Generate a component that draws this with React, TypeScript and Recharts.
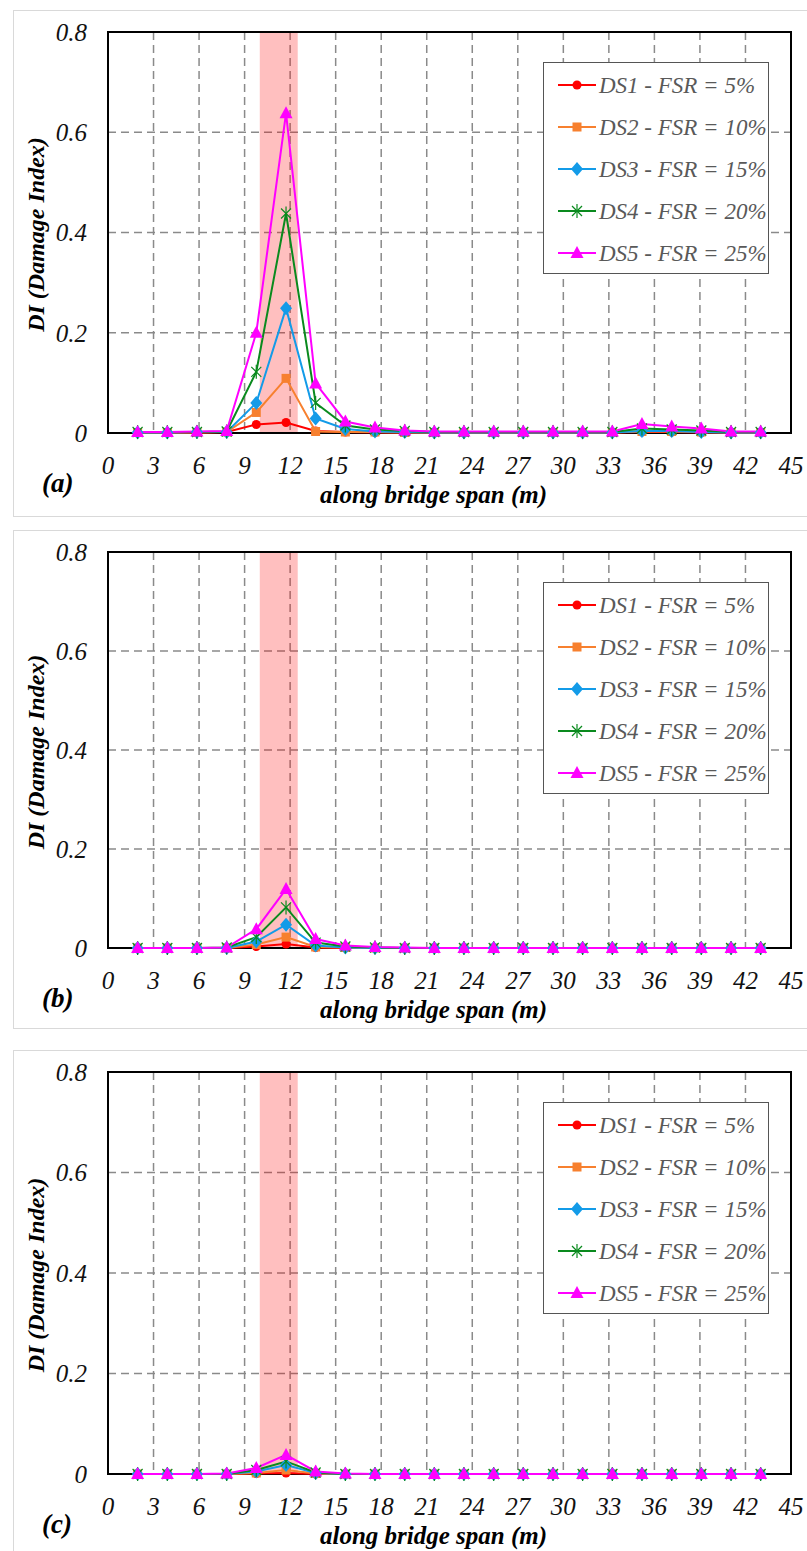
import { CartesianGrid, Label, Legend, Line, LineChart, ReferenceArea, XAxis, YAxis } from 'recharts';

// node positions along the span (m)
const spanX = [1.95, 3.91, 5.86, 7.82, 9.77, 11.73, 13.68, 15.64, 17.59, 19.55, 21.5, 23.45, 25.41, 27.36, 29.32, 31.27, 33.23, 35.18, 37.14, 39.09, 41.05, 43];
const xTicks = [0, 3, 6, 9, 12, 15, 18, 21, 24, 27, 30, 33, 36, 39, 42, 45];
const yTicks = [0, 0.2, 0.4, 0.6, 0.8];

const seriesNames = ['DS1 - FSR = 5%', 'DS2 - FSR = 10%', 'DS3 - FSR = 15%', 'DS4 - FSR = 20%', 'DS5 - FSR = 25%'];
const seriesColors = ['#ff0000', '#f7802f', '#139be8', '#0a8a1e', '#ff00ff'];
const seriesShapes = ['circle', 'square', 'diamond', 'star', 'triangle'];
const damagedZone = [10, 12.5];

// panel (a)
const aDs1 = [0.001, 0.001, 0.001, 0.002, 0.017, 0.021, 0.004, 0.002, 0.001, 0.001, 0.001, 0.001, 0.001, 0.001, 0.001, 0.001, 0.001, 0.002, 0.002, 0.001, 0.001, 0.001];
const aDs2 = [0.001, 0.001, 0.001, 0.002, 0.041, 0.109, 0.003, 0.002, 0.002, 0.001, 0.001, 0.001, 0.001, 0.001, 0.001, 0.001, 0.001, 0.003, 0.003, 0.002, 0.001, 0.001];
const aDs3 = [0.001, 0.001, 0.002, 0.002, 0.06, 0.249, 0.029, 0.008, 0.003, 0.002, 0.001, 0.001, 0.001, 0.001, 0.001, 0.001, 0.001, 0.004, 0.004, 0.002, 0.001, 0.001];
const aDs4 = [0.002, 0.002, 0.002, 0.003, 0.122, 0.438, 0.06, 0.015, 0.007, 0.004, 0.002, 0.002, 0.002, 0.002, 0.002, 0.002, 0.002, 0.009, 0.007, 0.005, 0.002, 0.002];
const aDs5 = [0.002, 0.002, 0.003, 0.004, 0.2, 0.638, 0.099, 0.023, 0.011, 0.005, 0.003, 0.003, 0.003, 0.003, 0.003, 0.003, 0.003, 0.018, 0.013, 0.009, 0.003, 0.003];

// panel (b)
const bDs1 = [0, 0, 0, 0, 0.003, 0.008, 0.001, 0, 0, 0, 0, 0, 0, 0, 0, 0, 0, 0, 0, 0, 0, 0];
const bDs2 = [0, 0, 0, 0, 0.007, 0.022, 0.002, 0.001, 0, 0, 0, 0, 0, 0, 0, 0, 0, 0, 0, 0, 0, 0];
const bDs3 = [0, 0, 0, 0, 0.013, 0.047, 0.005, 0.001, 0, 0, 0, 0, 0, 0, 0, 0, 0, 0, 0, 0, 0, 0];
const bDs4 = [0, 0, 0, 0.001, 0.022, 0.082, 0.011, 0.003, 0.001, 0, 0, 0, 0, 0, 0, 0, 0, 0, 0, 0, 0, 0];
const bDs5 = [0, 0, 0, 0.001, 0.038, 0.119, 0.018, 0.005, 0.002, 0.001, 0, 0, 0, 0, 0, 0, 0, 0, 0, 0, 0, 0];

// panel (c)
const cDs1 = [0, 0, 0, 0, 0.001, 0.002, 0, 0, 0, 0, 0, 0, 0, 0, 0, 0, 0, 0, 0, 0, 0, 0];
const cDs2 = [0, 0, 0, 0, 0.002, 0.008, 0.001, 0, 0, 0, 0, 0, 0, 0, 0, 0, 0, 0, 0, 0, 0, 0];
const cDs3 = [0, 0, 0, 0, 0.005, 0.018, 0.002, 0, 0, 0, 0, 0, 0, 0, 0, 0, 0, 0, 0, 0, 0, 0];
const cDs4 = [0, 0, 0, 0, 0.008, 0.025, 0.003, 0, 0, 0, 0, 0, 0, 0, 0, 0, 0, 0, 0, 0, 0, 0];
const cDs5 = [0, 0, 0, 0.001, 0.012, 0.038, 0.005, 0.001, 0, 0, 0, 0, 0, 0, 0, 0, 0, 0, 0, 0, 0, 0];

const keys = ['ds1', 'ds2', 'ds3', 'ds4', 'ds5'];

const buildRows = (cols: number[][]) =>
  spanX.map((x, i) => {
    const row: Record<string, number> = { x };
    keys.forEach((k, j) => (row[k] = cols[j][i]));
    return row;
  });

const FONT = 'Liberation Serif';

const Marker = ({ cx, cy, shape, color }: { cx: number; cy: number; shape: string; color: string }) => {
  if (cx == null || cy == null) return null;
  switch (shape) {
    case 'circle':
      return <circle cx={cx} cy={cy} r={4.5} fill={color} />;
    case 'square':
      return <rect x={cx - 4.5} y={cy - 4.5} width={9} height={9} fill={color} />;
    case 'diamond':
      return <polygon points={`${cx},${cy - 7} ${cx + 6},${cy} ${cx},${cy + 7} ${cx - 6},${cy}`} fill={color} />;
    case 'star':
      return (
        <g stroke={color} strokeWidth={1.2}>
          <line x1={cx - 5} y1={cy - 5} x2={cx + 5} y2={cy + 5} />
          <line x1={cx - 5} y1={cy + 5} x2={cx + 5} y2={cy - 5} />
          <line x1={cx} y1={cy - 7} x2={cx} y2={cy + 7} />
        </g>
      );
    default:
      return <polygon points={`${cx},${cy - 7} ${cx + 6.5},${cy + 5} ${cx - 6.5},${cy + 5}`} fill={color} />;
  }
};

const textStyle = { fontFamily: FONT, fontStyle: 'italic' as const };

const LegendBox = () => (
  <div
    style={{
      width: 226,
      height: 212,
      boxSizing: 'border-box',
      border: '1.5px solid #555',
      background: '#fff',
      paddingTop: 1,
    }}
  >
    {seriesNames.map((name, i) => (
      <div key={name} style={{ display: 'flex', alignItems: 'center', height: 42 }}>
        <svg width={55} height={20} style={{ flex: 'none' }}>
          <line x1={14} y1={10} x2={52} y2={10} stroke={seriesColors[i]} strokeWidth={2} />
          <Marker cx={33} cy={10} shape={seriesShapes[i]} color={seriesColors[i]} />
        </svg>
        <span style={{ ...textStyle, fontSize: 23, color: '#595959', whiteSpace: 'nowrap', lineHeight: 1 }}>{name}</span>
      </div>
    ))}
  </div>
);

interface PanelProps {
  tag: string;
  cols: number[][];
  top: number;
  boxHeight: number;
  plotHeight: number;
}

const PLOT_LEFT = 94;
const PLOT_TOP = 21;
const AXIS_H = 76;
const CHART_W = 790;

const Panel = ({ tag, cols, top, boxHeight, plotHeight }: PanelProps) => {
  const rows = buildRows(cols);
  const plotBottom = PLOT_TOP + plotHeight;
  const plotCenterX = PLOT_LEFT + (CHART_W - 13 - PLOT_LEFT) / 2;
  return (
    <div
      style={{
        position: 'absolute',
        left: 13,
        top,
        width: 800,
        height: boxHeight,
        border: '1px solid #d9d9d9',
        background: '#fff',
      }}
    >
      <LineChart
        width={CHART_W}
        height={PLOT_TOP + plotHeight + AXIS_H}
        data={rows}
        margin={{ top: PLOT_TOP, right: 13, left: 0, bottom: 0 }}
        style={{ fontFamily: FONT }}
      >
        <ReferenceArea x1={damagedZone[0]} x2={damagedZone[1]} y1={0} y2={0.8} fill="#ff0000" fillOpacity={0.25} stroke="none" />
        <CartesianGrid stroke="#8a8a8a" strokeWidth={1.5} strokeDasharray="8 5" />
        <ReferenceArea x1={0} x2={45} y1={0} y2={0.8} fill="none" stroke="#000" strokeWidth={2} />
        <XAxis
          type="number"
          dataKey="x"
          domain={[0, 45]}
          ticks={xTicks}
          interval={0}
          height={AXIS_H}
          axisLine={false}
          tickLine={false}
          tickSize={8}
          tickMargin={15}
          tick={{ ...textStyle, fontSize: 25, fill: '#111' }}
        >
          <Label
            content={() => (
              <text x={plotCenterX - 16} y={plotBottom + 70} textAnchor="middle" style={{ ...textStyle, fontWeight: 'bold', fontSize: 25 }} fill="#000">
                along bridge span (m)
              </text>
            )}
          />
          <Label
            content={() => (
              <text x={28} y={plotBottom + 59} style={{ ...textStyle, fontWeight: 'bold', fontSize: 27 }} fill="#000">
                {tag}
              </text>
            )}
          />
        </XAxis>
        <YAxis
          type="number"
          domain={[0, 0.8]}
          ticks={yTicks}
          interval={0}
          width={PLOT_LEFT}
          axisLine={false}
          tickLine={false}
          tickSize={8}
          tickMargin={13}
          tick={{ ...textStyle, fontSize: 25, fill: '#111' }}
        >
          <Label
            content={() => {
              const cy = PLOT_TOP + plotHeight / 2 + 2;
              return (
                <text
                  x={30}
                  y={cy}
                  transform={`rotate(-90 30 ${cy})`}
                  textAnchor="middle"
                  style={{ ...textStyle, fontWeight: 'bold', fontSize: 24 }}
                  fill="#000"
                >
                  DI (Damage Index)
                </text>
              );
            }}
          />
        </YAxis>
        {keys.map((k, i) => (
          <Line
            key={k}
            type="linear"
            dataKey={k}
            name={seriesNames[i]}
            stroke={seriesColors[i]}
            strokeWidth={2}
            isAnimationActive={false}
            activeDot={false}
            dot={(p: any) => (
              <Marker key={`${k}-${p.index}`} cx={p.cx} cy={p.cy} shape={seriesShapes[i]} color={seriesColors[i]} />
            )}
          />
        ))}
        <Legend
          layout="vertical"
          align="center"
          verticalAlign="middle"
          wrapperStyle={{ position: 'absolute', left: 529, top: 51, width: 226, height: 212 }}
          content={() => <LegendBox />}
        />
      </LineChart>
    </div>
  );
};

export default function App() {
  return (
    <div style={{ position: 'absolute', left: 0, top: 0, width: 807, height: 1551, overflow: 'hidden', background: '#fff', fontFamily: FONT }}>
      <Panel tag="(a)" cols={[aDs1, aDs2, aDs3, aDs4, aDs5]} top={10} boxHeight={505} plotHeight={401} />
      <Panel tag="(b)" cols={[bDs1, bDs2, bDs3, bDs4, bDs5]} top={530} boxHeight={497} plotHeight={396} />
      <Panel tag="(c)" cols={[cDs1, cDs2, cDs3, cDs4, cDs5]} top={1050} boxHeight={520} plotHeight={402} />
    </div>
  );
}
